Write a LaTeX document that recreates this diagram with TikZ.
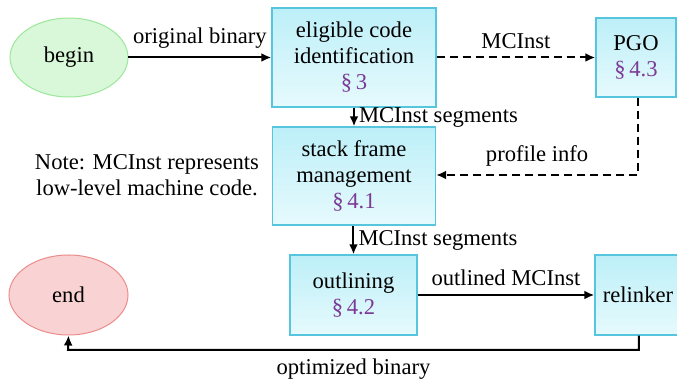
\documentclass[tikz,border=0pt]{standalone}
\usepackage{fontspec}
\setmainfont{Liberation Serif}
\usetikzlibrary{shapes.geometric,arrows.meta}
\definecolor{boxborder}{HTML}{55C6DE}
\definecolor{boxtop}{HTML}{BDEFF8}
\definecolor{boxbot}{HTML}{E6FAFD}
\definecolor{secpurple}{HTML}{7B3A96}
\definecolor{greenfill}{HTML}{D9F7D9}
\definecolor{greenline}{HTML}{9BE89B}
\definecolor{redfill}{HTML}{F9D3D3}
\definecolor{redline}{HTML}{EC8C8C}
\newcommand{\secref}[1]{\textcolor{secpurple}{§\,#1}}
\tikzset{
  procbox/.style={draw=boxborder, line width=0.7pt, top color=boxtop, bottom color=boxbot,
    align=center, inner sep=0pt, font=\fontsize{11.3}{13}\selectfont},
  termnode/.style={ellipse, inner sep=0pt, line width=0.5pt, font=\fontsize{11.3}{13}\selectfont},
  lbl/.style={font=\fontsize{11.3}{13}\selectfont, inner sep=1pt},
  flow/.style={line width=1pt, -{Latex[length=5pt,width=4.5pt]}},
  dflow/.style={flow, dash pattern=on 4pt off 2.5pt}
}
\begin{document}
\begin{tikzpicture}[x=0.5pt,y=-0.5pt]
\useasboundingbox (0,0) rectangle (677,379);
\begin{scope}
\clip (0,0) rectangle (677,379);
\node[termnode, draw=greenline, fill=greenfill, minimum width=59pt, minimum height=39.5pt] (begin) at (69,57.5) {begin};
\node[termnode, draw=redline, fill=redfill, minimum width=59.5pt, minimum height=40pt] (end) at (68.5,295) {end};
\node[procbox, minimum width=82pt, minimum height=49.5pt] (elig) at (354,57.5) {eligible code\\identification\\\secref{3}};
\node[procbox, minimum width=40pt, minimum height=39.5pt] (pgo) at (636,57.5) {PGO\\\secref{4.3}};
\node[procbox, minimum width=81.5pt, minimum height=49pt] (stack) at (354,176) {stack frame\\management\\\secref{4.1}};
\node[procbox, minimum width=63.5pt, minimum height=40pt] (outl) at (353.5,295) {outlining\\\secref{4.2}};
\node[procbox, minimum width=43pt, minimum height=40pt] (relink) at (638,295) {relinker};
\end{scope}

\node[lbl, align=center] (note) at (147,175) {Note: MCInst represents\\low-level machine code.};

\draw[flow] (begin) -- node[lbl, above=3pt] {original binary} (elig);
\draw[dflow] (elig) -- node[lbl, above=3pt] {MCInst} (pgo.west |- elig);
\draw[flow] (elig.south) -- node[lbl, right=1pt] {MCInst segments} (stack.north);
\coordinate (pgoturn) at (638,175);
\draw[dflow] (pgo.south -| pgoturn) -- (pgoturn) -- node[lbl, above=3pt] {profile info} (stack.east |- pgoturn);
\draw[flow] (stack.south -| outl.north) -- node[lbl, right=1pt] {MCInst segments} (outl.north);
\draw[flow] (outl) -- node[lbl, above=3pt] {outlined MCInst} (relink);
\coordinate (rb) at (639,350);
\coordinate (eb) at (68,350);
\draw[flow] (relink.south -| rb) -- (rb) -- node[lbl, below=3pt] {optimized binary} (eb) -- (end.south);
\end{tikzpicture}
\end{document}
